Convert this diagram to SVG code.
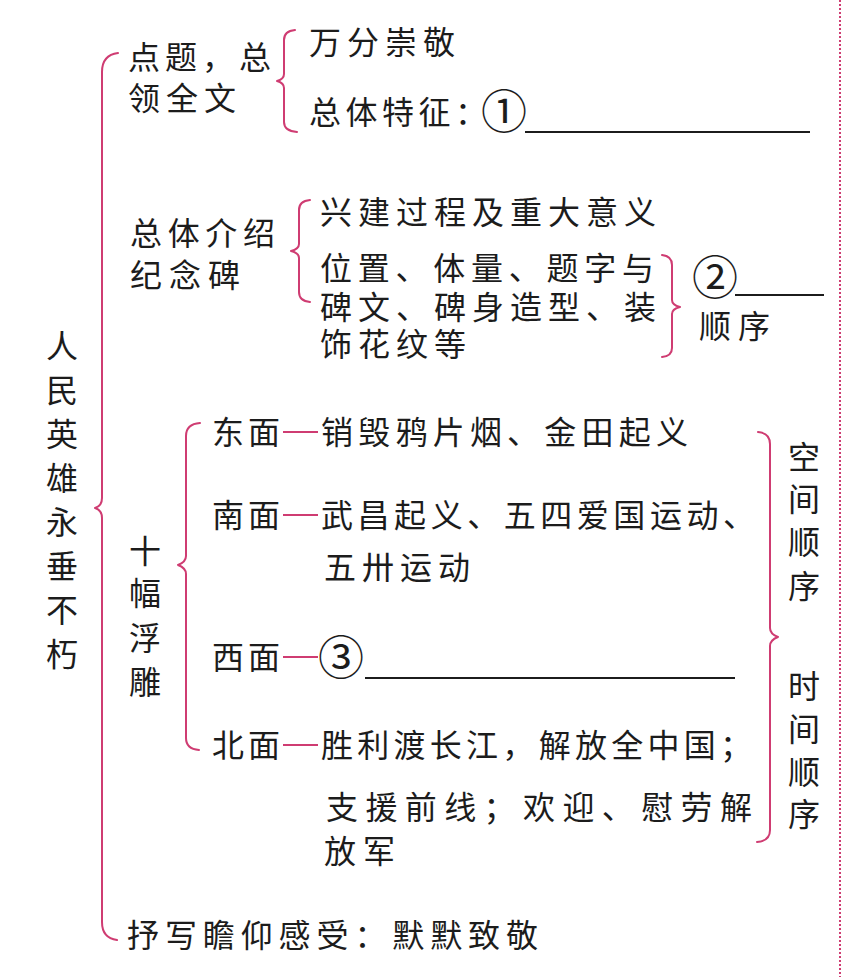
<svg xmlns="http://www.w3.org/2000/svg" width="846" height="977" viewBox="0 0 846 977">
<defs>
<style>
.t{font-family:"Noto Sans CJK SC","Noto Sans",sans-serif;font-size:32px;fill:#1c1c1c}
.v{font-family:"Noto Sans CJK SC","Noto Sans",sans-serif;font-size:32px;fill:#1c1c1c;text-anchor:middle}
.c{font-family:"Noto Sans CJK SC","Noto Sans",sans-serif;font-size:46px;fill:#1c1c1c;text-anchor:middle}
.b{fill:none;stroke:#cf3c72;stroke-width:2;stroke-linecap:round;stroke-linejoin:round}
.d{stroke:#cf3c72;stroke-width:2}
.u{stroke:#1c1c1c;stroke-width:2}
</style>
</defs>
<rect width="846" height="977" fill="#ffffff"/>
<line x1="840" y1="0" x2="840" y2="977" stroke="#cf3c72" stroke-width="2" stroke-dasharray="2 2"/>

<g id="connectors">
<path class="b" d="M118,53 Q102,55 102,72 L102,498 Q102,506 95,508 Q102,510 102,518 L102,922 Q102,938 117,940"/>
<path class="b" d="M295,30 Q284,31 284,40 L284,74 Q284,79 277,81 Q284,83 284,88 L284,122 Q284,131 297,132"/>
<path class="b" d="M310,200 Q299,201 299,210 L299,244 Q299,249 291,251 Q299,253 299,258 L299,292 Q299,301 310,302"/>
<path class="b" d="M662,255 Q672,256 672,265 L672,300 Q672,305 680,307 Q672,309 672,314 L672,348 Q672,356 662,357"/>
<path class="b" d="M200,423 Q186,424 186,436 L186,556 Q186,562 178,565 Q186,568 186,574 L186,738 Q186,749 199,750"/>
<path class="b" d="M758,432 Q770,433 770,444 L770,628 Q770,634 778,637 Q770,640 770,646 L770,830 Q770,841 757,842"/>
<line class="d" x1="283" y1="432" x2="318" y2="432"/>
<line class="d" x1="283" y1="515" x2="318" y2="515"/>
<line class="d" x1="283" y1="657" x2="318" y2="657"/>
<line class="d" x1="283" y1="745" x2="318" y2="745"/>
</g>

<g id="root">
<text class="v" x="62" y="358">人</text>
<text class="v" x="62" y="402">民</text>
<text class="v" x="62" y="446">英</text>
<text class="v" x="62" y="490">雄</text>
<text class="v" x="62" y="534">永</text>
<text class="v" x="62" y="578">垂</text>
<text class="v" x="62" y="622">不</text>
<text class="v" x="62" y="666">朽</text>
</g>

<g id="n-intro">
<text class="t" x="128" y="69" textLength="143" lengthAdjust="spacing">点题，总</text>
<text class="t" x="128" y="110" textLength="108" lengthAdjust="spacing">领全文</text>
</g>
<g id="n-respect">
<text class="t" x="309" y="54" textLength="146" lengthAdjust="spacing">万分崇敬</text>
</g>
<g id="n-feature">
<text class="t" x="309" y="124" textLength="178" lengthAdjust="spacing">总体特征：</text>
<text class="c" x="504" y="128">①</text>
<line class="u" x1="525" y1="132" x2="810" y2="132"/>
</g>

<g id="n-overall">
<text class="t" x="130" y="245" textLength="145" lengthAdjust="spacing">总体介绍</text>
<text class="t" x="130" y="287" textLength="110" lengthAdjust="spacing">纪念碑</text>
</g>
<g id="n-build">
<text class="t" x="320" y="224" textLength="336" lengthAdjust="spacing">兴建过程及重大意义</text>
</g>
<g id="n-position">
<text class="t" x="320" y="280" textLength="334" lengthAdjust="spacing">位置、体量、题字与</text>
<text class="t" x="320" y="319" textLength="336" lengthAdjust="spacing">碑文、碑身造型、装</text>
<text class="t" x="320" y="356" textLength="146" lengthAdjust="spacing">饰花纹等</text>
</g>
<g id="n-order2">
<text class="c" x="715" y="294">②</text>
<line class="u" x1="735" y1="295" x2="824" y2="295"/>
<text class="t" x="699" y="338" textLength="71" lengthAdjust="spacing">顺序</text>
</g>

<g id="n-relief">
<text class="v" x="145" y="563">十</text>
<text class="v" x="145" y="605">幅</text>
<text class="v" x="145" y="650">浮</text>
<text class="v" x="145" y="694">雕</text>
</g>

<g id="n-east">
<text class="t" x="212" y="444" textLength="68" lengthAdjust="spacing">东面</text>
<text class="t" x="321" y="444" textLength="367" lengthAdjust="spacing">销毁鸦片烟、金田起义</text>
</g>
<g id="n-south">
<text class="t" x="212" y="527" textLength="68" lengthAdjust="spacing">南面</text>
<text class="t" x="321" y="527" textLength="434" lengthAdjust="spacing">武昌起义、五四爱国运动、</text>
<text class="t" x="324" y="579" textLength="146" lengthAdjust="spacing">五卅运动</text>
</g>
<g id="n-west">
<text class="t" x="212" y="669" textLength="68" lengthAdjust="spacing">西面</text>
<text class="c" x="341" y="674">③</text>
<line class="u" x1="365" y1="678" x2="735" y2="678"/>
</g>
<g id="n-north">
<text class="t" x="212" y="757" textLength="68" lengthAdjust="spacing">北面</text>
<text class="t" x="321" y="757" textLength="431" lengthAdjust="spacing">胜利渡长江，解放全中国；</text>
<text class="t" x="326" y="819" textLength="426" lengthAdjust="spacing">支援前线；欢迎、慰劳解</text>
<text class="t" x="324" y="863" textLength="71" lengthAdjust="spacing">放军</text>
</g>

<g id="n-space">
<text class="v" x="804" y="469">空</text>
<text class="v" x="804" y="511">间</text>
<text class="v" x="804" y="554">顺</text>
<text class="v" x="804" y="598">序</text>
</g>
<g id="n-time">
<text class="v" x="804" y="698">时</text>
<text class="v" x="804" y="741">间</text>
<text class="v" x="804" y="784">顺</text>
<text class="v" x="804" y="826">序</text>
</g>

<g id="n-feeling">
<text class="t" x="127" y="947" textLength="411" lengthAdjust="spacing">抒写瞻仰感受：默默致敬</text>
</g>
</svg>
